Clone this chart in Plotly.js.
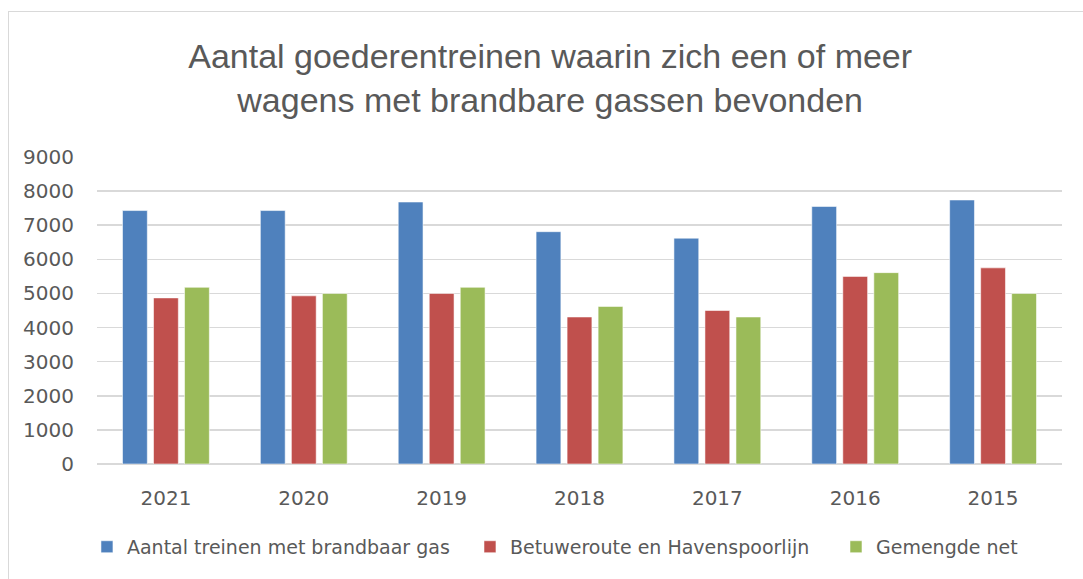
<!DOCTYPE html>
<html>
<head>
<meta charset="utf-8">
<script src="https://cdn.plot.ly/plotly-3.0.1.min.js"></script>
<style>
  html, body { margin: 0; padding: 0; background: #ffffff; }
  #chart { position: absolute; left: 0; top: 0; width: 1083px; height: 579px; }
  #frame { position: absolute; left: 8px; top: 11px; width: 1090px; height: 600px;
           border: 1px solid #d9d9d9; pointer-events: none; }
</style>
</head>
<body>
<div id="chart"></div>
<div id="frame"></div>
<script>
const years = ["2021", "2020", "2019", "2018", "2017", "2016", "2015"];
const seriesNames = ["Aantal treinen met brandbaar gas", "Betuweroute en Havenspoorlijn", "Gemengde net"];
const totalTrains = [7430, 7430, 7680, 6810, 6620, 7550, 7740];
const betuweroute = [4870, 4930, 5000, 4310, 4500, 5500, 5750];
const gemengdeNet = [5180, 5000, 5180, 4620, 4310, 5610, 5000];
const colors = ["#4F81BD", "#C0504D", "#9BBB59"];
const yTicks = [0, 1000, 2000, 3000, 4000, 5000, 6000, 7000, 8000, 9000];

const seriesValues = [totalTrains, betuweroute, gemengdeNet];
const legendIds = ["legend", "legend2", "legend3"];
const traces = seriesValues.map((vals, i) => ({
  type: "bar",
  name: seriesNames[i],
  x: years,
  y: vals,
  legend: legendIds[i],
  marker: { color: colors[i], line: { color: "rgba(255,255,255,0.55)", width: 1 } },
  hoverinfo: "x+y+name"
}));

const tickFont = { family: "DejaVu Sans, sans-serif", size: 20, color: "#595959" };
const legendFont = { family: "DejaVu Sans, sans-serif", size: 19, color: "#595959" };
const legendX = [-0.0104, 0.3865, 0.7658];
function legendCfg(x) {
  return {
    orientation: "h",
    x: x, xanchor: "left",
    y: -0.27, yanchor: "middle",
    font: legendFont,
    itemwidth: 30,
    bgcolor: "rgba(0,0,0,0)"
  };
}

const layout = {
  width: 1083,
  height: 579,
  paper_bgcolor: "#ffffff",
  plot_bgcolor: "#ffffff",
  margin: { l: 97, r: 21, t: 157, b: 115 },
  title: {
    text: "Aantal goederentreinen waarin zich een of meer<br>wagens met brandbare gassen bevonden",
    font: { family: "Liberation Sans, Arial, sans-serif", size: 34, color: "#595959" },
    x: 0.508, xanchor: "center",
    y: 0.883, yanchor: "top"
  },
  barmode: "group",
  bargap: 0.325,
  bargroupgap: 0.2,
  xaxis: {
    type: "category",
    tickfont: tickFont,
    ticks: "",
    ticklabelstandoff: 20,
    showgrid: false,
    zeroline: false,
    showline: false
  },
  yaxis: {
    range: [0, 9000],
    tickvals: yTicks,
    ticktext: yTicks.map(String),
    tickfont: tickFont,
    ticklabelstandoff: 22,
    gridcolor: "#d9d9d9",
    gridwidth: 1.5,
    zeroline: true,
    zerolinecolor: "#d9d9d9",
    zerolinewidth: 1.5,
    showline: false
  },
  showlegend: true,
  legend: legendCfg(legendX[0]),
  legend2: legendCfg(legendX[1]),
  legend3: legendCfg(legendX[2])
};

Plotly.newPlot("chart", traces, layout, { displayModeBar: false, staticPlot: true });
</script>
</body>
</html>
